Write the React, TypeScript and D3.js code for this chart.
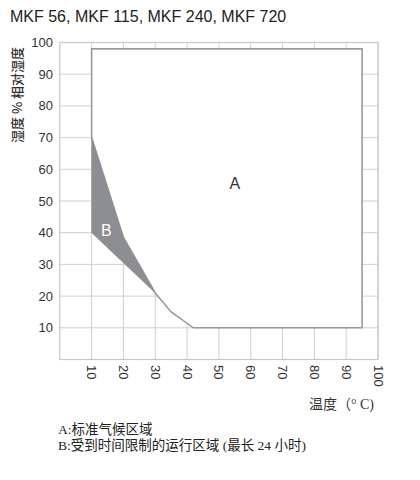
import React from "react";
import * as d3 from "d3";

// Climate envelope for the MKF series: temperature (°C) vs relative humidity (%)
const title = "MKF 56, MKF 115, MKF 240, MKF 720";
const xTicks = [10, 20, 30, 40, 50, 60, 70, 80, 90, 100];
const yTicks = [10, 20, 30, 40, 50, 60, 70, 80, 90, 100];

// Region A: standard climate zone outline (temperature, humidity)
const regionATemp = [10, 95, 95, 42, 35, 30, 20, 10];
const regionAHum = [98, 98, 10, 10, 15, 21, 38.5, 70];

// Region B: time-limited operating zone
const regionBTemp = [10, 20, 30, 10];
const regionBHum = [70, 38.5, 21, 40];

const labelA = { t: 55, h: 55.5, text: "A" };
const labelB = { t: 14.6, h: 40.8, text: "B" };

const yTitle = "湿度 % 相对湿度";
const xTitle = "温度（° C)";
const legendLines = ["A:标准气候区域", "B:受到时间限制的运行区域 (最长 24 小时)"];

export default function App() {
  const W = 420;
  const H = 480;
  const x = d3.scaleLinear().domain([0, 100]).range([59.8, 378]);
  const y = d3.scaleLinear().domain([0, 100]).range([359.5, 42.5]);

  const pts = (ts: number[], hs: number[]) =>
    ts.map((t, i) => [x(t), y(hs[i])] as [number, number]);
  const line = d3.line().curve(d3.curveLinearClosed);

  const sans = "'Liberation Sans', Arial, Helvetica, sans-serif";
  const cjk = "'Noto Sans CJK SC', sans-serif";
  const serifCjk = "'Liberation Serif', 'Noto Sans CJK SC', serif";

  return (
    <svg
      width={W}
      height={H}
      style={{ position: "absolute", left: 0, top: 0, background: "#fff" }}
    >
      <text x={10} y={22} fontFamily={sans} fontSize={16} fill="#222">
        {title}
      </text>

      {/* grid */}
      <g stroke="#cfcfcf" strokeWidth={1}>
        {xTicks.map((t) => (
          <line key={"gx" + t} x1={x(t)} x2={x(t)} y1={y(0)} y2={y(100)} />
        ))}
        {yTicks.map((t) => (
          <line key={"gy" + t} x1={x(0)} x2={x(100)} y1={y(t)} y2={y(t)} />
        ))}
      </g>
      <rect
        x={x(0)}
        y={y(100)}
        width={x(100) - x(0)}
        height={y(0) - y(100)}
        fill="none"
        stroke="#c8c8c8"
        strokeWidth={1.2}
      />

      {/* region A */}
      <path
        d={line(pts(regionATemp, regionAHum)) || ""}
        fill="#fff"
        stroke="#9a9a9a"
        strokeWidth={1.6}
      />
      {/* region B */}
      <path
        d={line(pts(regionBTemp, regionBHum)) || ""}
        fill="#8d8e93"
        stroke="#8d8e93"
        strokeWidth={0.5}
      />

      <text
        x={x(labelA.t)}
        y={y(labelA.h)}
        textAnchor="middle"
        dominantBaseline="central"
        fontFamily={sans}
        fontSize={16}
        fill="#333"
      >
        {labelA.text}
      </text>
      <text
        x={x(labelB.t)}
        y={y(labelB.h)}
        textAnchor="middle"
        dominantBaseline="central"
        fontFamily={sans}
        fontSize={16}
        fill="#fff"
      >
        {labelB.text}
      </text>

      {/* y tick labels */}
      {yTicks.map((t) => (
        <text
          key={"ly" + t}
          x={53}
          y={y(t)}
          textAnchor="end"
          dominantBaseline="central"
          fontFamily={sans}
          fontSize={13}
          fill="#333"
        >
          {t}
        </text>
      ))}

      {/* x tick labels, rotated */}
      {xTicks.map((t) => (
        <text
          key={"lx" + t}
          transform={`translate(${x(t)},${365}) rotate(90)`}
          textAnchor="start"
          dominantBaseline="central"
          fontFamily={sans}
          fontSize={13}
          fill="#333"
        >
          {t}
        </text>
      ))}

      <text
        transform={`translate(16,95) rotate(-90)`}
        textAnchor="middle"
        dominantBaseline="central"
        fontFamily={cjk}
        fontSize={13}
        fontWeight={500}
        fill="#333"
      >
        {yTitle}
      </text>

      <text
        x={374}
        y={409}
        textAnchor="end"
        fontFamily={serifCjk}
        fontSize={14}
        fill="#333"
      >
        {xTitle}
      </text>

      {legendLines.map((s, i) => (
        <text
          key={"lg" + i}
          x={58}
          y={434 + i * 16}
          fontFamily={serifCjk}
          fontSize={13.5}
          fill="#222"
        >
          {s}
        </text>
      ))}
    </svg>
  );
}
